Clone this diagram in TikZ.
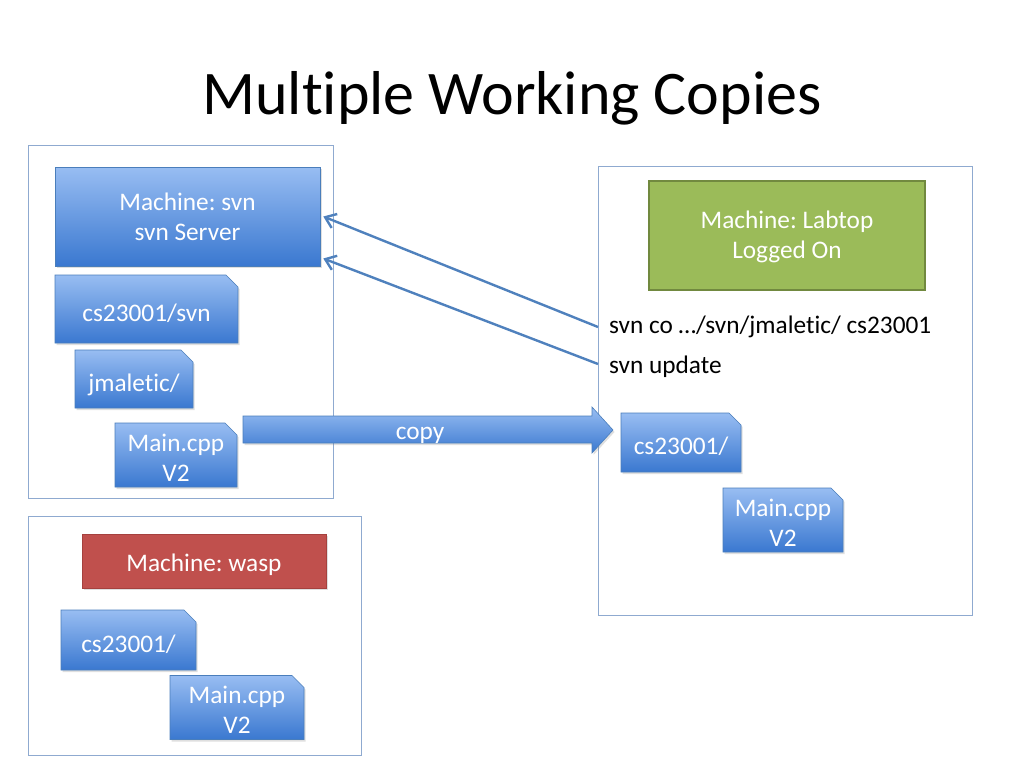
\documentclass[tikz,border=0pt]{standalone}
\usepackage{fontspec}
\setmainfont{Carlito}[Ligatures=NoCommon]
\frenchspacing
\usetikzlibrary{shapes.misc,shadows,arrows.meta,calc}
\definecolor{boxborder}{HTML}{8FAAD0}
\definecolor{bluetop}{HTML}{98BDF2}
\definecolor{bluebot}{HTML}{3A78D0}
\definecolor{blueline}{HTML}{4A7EBB}
\definecolor{linkblue}{HTML}{4F81BD}
\definecolor{greenfill}{HTML}{9BBB59}
\definecolor{greenline}{HTML}{71893F}
\definecolor{redfill}{HTML}{C0504D}
\definecolor{redline}{HTML}{A5413E}
\newcommand{\lowstrut}{\rule{0pt}{22pt}}
\tikzset{
  container/.style={draw=boxborder, line width=1pt, inner sep=0pt},
  bodytext/.style={font=\fontsize{25.3}{30}\selectfont},
  bluebox/.style={bodytext, text=white, align=center, inner sep=0pt,
    top color=bluetop, bottom color=bluebot, draw=blueline, line width=0.6pt,
    drop shadow={opacity=0.25, shadow xshift=1.5pt, shadow yshift=-2pt}},
  folder/.style={bluebox, chamfered rectangle, chamfered rectangle corners=north east,
    chamfered rectangle xsep=6pt, chamfered rectangle ysep=6pt},
  onefolder/.style={folder, text height=27pt, text depth=3pt},
  greenbox/.style={bodytext, text=white, align=center, inner sep=0pt,
    fill=greenfill, draw=greenline, line width=2pt},
  redbox/.style={bodytext, text=white, align=center, inner sep=0pt,
    fill=redfill, draw=redline, line width=1pt, text height=25pt, text depth=4pt,
    drop shadow={opacity=0.25, shadow xshift=1.5pt, shadow yshift=-2pt}},
  cmd/.style={bodytext, text=black, anchor=west, inner xsep=11pt, inner ysep=0pt},
  link/.style={draw=linkblue, line width=2.4pt, -{Straight Barb[length=10pt, width=15pt, line width=2.4pt]}},
  copyarrow/.style={top color=bluetop, bottom color=bluebot, draw=blueline, line width=0.6pt,
    drop shadow={opacity=0.25, shadow xshift=1.5pt, shadow yshift=-2pt}},
  title/.style={font=\fontsize{62}{70}\selectfont, text=black}
}
\begin{document}
\begin{tikzpicture}[x=1pt, y=-1pt]
\useasboundingbox[fill=white] (0,0) rectangle (1024,768);

\node[title] (title) at (512,98) {Multiple Working Copies};

% containers
\node[container, minimum width=305, minimum height=353] (serverarea) at (180.5,321.5) {};
\node[container, minimum width=333, minimum height=239] (wasparea) at (194.5,635.5) {};
\node[container, minimum width=374, minimum height=449] (labarea) at (785,390.5) {};

% server machine
\node[bluebox, minimum width=265, minimum height=99] (svn) at (187.5,216.5) {Machine: svn\\svn Server};
\node[onefolder, minimum width=183, minimum height=68] (repo) at (146.5,309) {cs23001/svn};
\node[onefolder, minimum width=118, minimum height=58] (jm) at (134,379) {jmaletic/};
\node[folder, minimum width=122, minimum height=60] (main1) at (176,455) {\lowstrut Main.cpp\\V2};

% wasp machine
\node[redbox, minimum width=244, minimum height=54] (wasp) at (204,561) {Machine: wasp};
\node[onefolder, minimum width=135, minimum height=60] (cs2) at (128.5,640) {cs23001/};
\node[folder, minimum width=134, minimum height=61] (main2) at (237,707.5) {\lowstrut Main.cpp\\V2};

% labtop machine
\node[greenbox, minimum width=276, minimum height=109] (lab) at (787,235.5) {\rule{0pt}{20pt}Machine: Labtop\\Logged On};
\node[cmd] (co) at (598,327) {svn co …/svn/jmaletic/ cs23001};
\node[cmd] (upd) at (598,367) {svn update};
\node[onefolder, minimum width=120, minimum height=59] (cs3) at (681,442.5) {cs23001/};
\node[folder, minimum width=120, minimum height=58] (main3) at (783,520) {\lowstrut Main.cpp\\V2};

% connectors
\coordinate (svnin1) at ($(svn.east)+(3,0)$);
\coordinate (svnin2) at ($(svn.east)+(3,42)$);
\draw[link] (co.west) -- (svnin1);
\draw[link] ($(upd.west)+(0,-3)$) -- (svnin2);

% copy block arrow
\path[copyarrow] (243,416) -- (592,416) -- (592,407) -- (613,430) -- (592,453) -- (592,443) -- (243,443) -- cycle;
\node[bodytext, text=white, inner sep=0pt] (copylbl) at (420,435) {copy};
\end{tikzpicture}
\end{document}
